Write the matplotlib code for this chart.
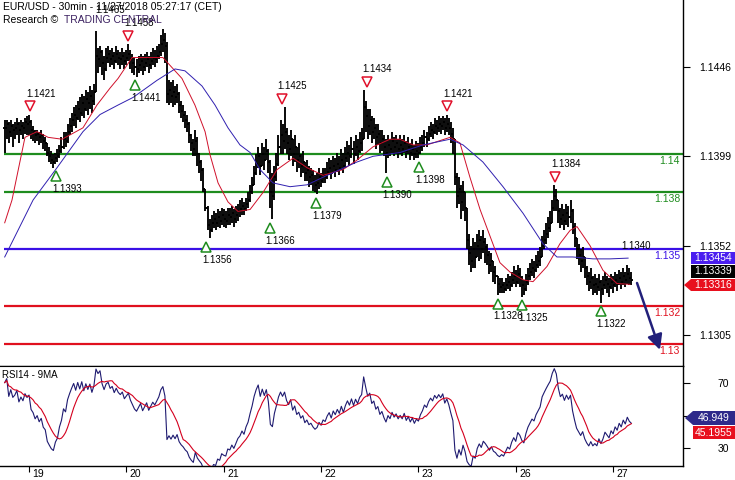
import numpy as np
import pandas as pd
import matplotlib
matplotlib.use("Agg")
import matplotlib.pyplot as plt
from matplotlib.collections import LineCollection
from matplotlib.patches import Polygon
from matplotlib.transforms import offset_copy

plt.rcParams['font.family'] = ['Liberation Sans', 'DejaVu Sans']

# ---------------- data (prices in pips above 1.1300, 30-min bars) ----------------
BASE = 1.1300
close_pips = [
    114, 116, 112, 115, 113, 114, 116, 113, 115, 114, 117, 116,
    117, 113, 112, 110, 111, 109, 110, 107, 106,
    101, 99, 97, 96, 98, 99, 102,
    104, 108, 107, 112, 115, 118,
    121, 119, 124, 122, 127, 124, 129, 127, 131, 128, 133,
    152, 150, 154,
    148, 145, 151, 153, 150, 152, 149, 153, 151, 150, 152, 149,
    151, 153, 150, 148, 146, 145, 147, 149, 146, 148, 150, 147, 149, 151, 150, 152,
    154, 158, 160, 157,
    132, 134, 131, 133, 130, 132,
    126, 123, 121, 118, 116,
    110, 106, 103, 107, 100, 96, 92,
    82, 72, 63, 60, 64,
    66, 64, 67, 65, 68, 66, 65, 68, 67, 69, 66, 68, 70, 71, 73,
    71, 74, 76, 80, 84, 90, 95,
    99, 94, 100, 97, 102, 96,
    80, 78, 88,
    95, 104, 110, 107, 112, 106,
    103, 108, 100, 104, 97, 99, 94, 96,
    90, 92, 88, 89, 86, 84, 85, 88,
    86, 89, 88, 91, 93, 90, 94, 92,
    95, 93, 97, 94, 98, 101, 99, 103, 100, 104, 102, 106, 108,
    125, 120, 115,
    118, 112, 114, 109, 111, 106,
    108, 104, 101, 105, 103, 107, 104, 106, 103, 105,
    103, 106, 102, 104, 101, 103, 100, 102, 101, 104,
    106, 109, 108, 111, 113, 112, 115, 114, 116, 115, 117, 114, 116,
    114, 111, 108,
    88, 78, 82,
    75, 80, 72,
    55, 48, 44, 50, 46,
    52, 55, 50, 54, 51,
    47, 42, 44, 38, 36,
    32, 30, 31, 29, 31, 33, 31,
    34, 36, 33, 37, 35,
    31, 29, 33,
    36, 38, 40, 39, 42, 44, 46,
    52, 55, 58, 61, 64,
    72, 78, 76,
    70, 66, 68, 65, 69, 67, 70,
    62, 56,
    50, 47, 44, 46, 40,
    36, 33, 35, 31, 32,
    30, 33, 29, 31, 34, 32, 30,
    33, 31, 34, 32, 35, 33, 36, 34, 37, 35, 34,
]
high_pips = [
    118, 118, 117, 118, 116, 117, 119, 117, 118, 117, 119, 120,
    121, 118, 115, 113, 113, 112, 113, 111, 109,
    106, 104, 102, 100, 101, 103, 105,
    109, 112, 112, 116, 119, 122,
    125, 126, 128, 130, 132, 131, 134, 133, 136, 134, 137,
    165, 156, 157,
    155, 152, 156, 157, 155, 156, 154, 157, 155, 154, 156, 154,
    155, 158, 155, 153, 151, 150, 152, 153, 152, 153, 154, 152, 154, 156, 155, 157,
    158, 163, 166, 164,
    159, 139, 138, 139, 136, 137,
    133, 128, 126, 123, 121,
    117, 111, 108, 113, 109, 101, 97,
    93, 82, 73, 66, 68,
    70, 69, 71, 70, 72, 71, 70, 72, 72, 73, 71, 73, 74, 76, 77,
    75, 77, 80, 84, 88, 94, 100,
    104, 101, 106, 104, 108, 103,
    97, 90, 94,
    101, 110, 118, 116, 125, 114,
    110, 113, 108, 110, 104, 106, 100, 102,
    96, 97, 94, 93, 92, 89, 90, 93,
    90, 93, 93, 96, 98, 97, 99, 98,
    101, 99, 103, 101, 104, 107, 105, 109, 107, 110, 108, 112, 114,
    134, 128, 124,
    124, 120, 119, 116, 116, 113,
    113, 110, 108, 110, 108, 112, 109, 110, 108, 110,
    108, 110, 107, 109, 106, 108, 105, 107, 106, 109,
    110, 113, 112, 115, 117, 116, 119, 118, 120, 119, 120, 119, 121,
    119, 117, 114,
    108, 90, 88,
    84, 86, 80,
    72, 58, 52, 56, 54,
    58, 60, 57, 60, 56,
    53, 49, 48, 44, 41,
    36, 35, 35, 33, 35, 37, 36,
    38, 41, 39, 42, 40,
    36, 34, 37,
    40, 43, 45, 44, 47, 49, 51,
    57, 60, 64, 67, 70,
    76, 84, 82,
    76, 72, 74, 71, 74, 73, 76,
    71, 64,
    56, 53, 50, 51, 46,
    41, 38, 40, 36, 37,
    35, 37, 34, 36, 38, 36, 35,
    37, 36, 38, 37, 39, 38, 40, 38, 42, 40, 38,
]
low_pips = [
    101, 108, 106, 109, 104, 108, 110, 106, 110, 108, 111, 110,
    110, 108, 107, 106, 107, 105, 106, 103, 102,
    99, 96, 95, 93, 95, 96, 98,
    101, 103, 104, 106, 110, 112,
    115, 114, 118, 117, 120, 119, 123, 121, 124, 122, 126,
    133, 143, 146,
    142, 139, 144, 148, 146, 147, 145, 148, 147, 145, 147, 145,
    147, 149, 145, 143, 142, 141, 143, 144, 142, 144, 146, 143, 145, 147, 146, 148,
    150, 152, 154, 148,
    127, 126, 127, 125, 126, 127,
    122, 119, 117, 114, 112,
    106, 102, 99, 99, 94, 90, 86,
    80, 70, 60, 56, 59,
    61, 60, 62, 61, 63, 62, 61, 63, 63, 64, 62, 64, 65, 67, 68,
    68, 70, 72, 75, 79, 84, 89,
    93, 89, 95, 92, 97, 90,
    72, 66, 76,
    86, 94, 100, 100, 103, 100,
    97, 99, 94, 96, 91, 93, 88, 90,
    86, 86, 83, 84, 81, 80, 79, 82,
    83, 85, 85, 87, 89, 87, 90, 88,
    91, 89, 92, 90, 93, 96, 94, 98, 95, 99, 97, 101, 102,
    108, 112, 108,
    110, 106, 108, 103, 105, 101,
    102, 99, 90, 98, 99, 101, 99, 100, 98, 100,
    99, 101, 98, 100, 97, 99, 97, 98, 98, 100,
    102, 104, 104, 107, 109, 108, 111, 110, 112, 111, 113, 110, 112,
    110, 106, 100,
    84, 72, 74,
    66, 70, 65,
    50, 42, 38, 40, 40,
    46, 44, 45, 48, 43,
    42, 37, 38, 33, 32,
    26, 27, 27, 27, 28, 29, 28,
    30, 32, 30, 32, 30,
    25, 26, 28,
    31, 34, 36, 35, 38, 40, 41,
    46, 50, 53, 56, 59,
    64, 70, 70,
    64, 61, 63, 60, 63, 62, 64,
    58, 51,
    45, 42, 38, 40, 35,
    31, 28, 29, 26, 27,
    26, 28, 22, 26, 29, 27, 25,
    29, 27, 30, 28, 31, 29, 31, 30, 32, 31, 31,
]

# moving averages (bar index, price)
ma_red_bars = [0, 3.6, 10, 15.9, 21.4, 28.3, 38.6, 45.5, 52, 55.9, 62.8, 70.7, 78, 87.4, 93.8,
               98.8, 101.2, 105.2, 110.1, 115, 121, 127.4, 134.3, 142.2, 149.1, 157, 166.8,
               173.7, 181.6, 190, 194.9, 201.3, 208.2, 219.6, 224.5, 229.4, 234.4, 239.3,
               244.2, 249.2, 255.6, 260.5, 267.4, 273.8, 278.8, 282.2, 288.6, 295, 301.9, 308.3]
ma_red_vals = [1.1364, 1.1376, 1.1409, 1.1412, 1.1409, 1.1408, 1.1414, 1.1426, 1.1435, 1.1440,
               1.1451, 1.1451, 1.1451, 1.1440, 1.1426, 1.1412, 1.1400, 1.1385, 1.1375, 1.1370,
               1.1371, 1.1380, 1.1392, 1.1398, 1.1393, 1.1389, 1.1392, 1.1397, 1.1404, 1.1408,
               1.1408, 1.1405, 1.1405, 1.1409, 1.1406, 1.1388, 1.1371, 1.1357, 1.1343, 1.1338,
               1.1334, 1.1333, 1.1341, 1.1353, 1.1360, 1.1362, 1.1352, 1.1339, 1.1332, 1.13316]
ma_blue_bars = [0, 14, 25.8, 38.6, 47, 55.9, 63.3, 75.1, 84, 88.9, 97.3, 103.7, 110.1, 116, 121,
                125.9, 132.3, 140.7, 149.1, 157, 165.3, 173.7, 181.6, 194.9, 206.3, 219.6, 226,
                235.8, 245.7, 255.6, 265.4, 272.3, 280.2, 290.1, 298.5, 307.4]
ma_blue_vals = [1.1346, 1.1376, 1.1393, 1.1412, 1.1421, 1.1426, 1.1430, 1.1439, 1.1445, 1.1444,
                1.1436, 1.1426, 1.1414, 1.1405, 1.1401, 1.1392, 1.1385, 1.1383, 1.1384, 1.1388,
                1.1392, 1.1396, 1.1399, 1.1401, 1.1405, 1.1408, 1.1405, 1.1396, 1.1383, 1.1369,
                1.1353, 1.1346, 1.1346, 1.1345, 1.1345, 1.13454]

# horizontal levels
levels = [1.140, 1.138, 1.135, 1.132, 1.130]
level_labels = ["1.14", "1.138", "1.135", "1.132", "1.13"]
level_colors = ["#1E8C1E", "#1E8C1E", "#3A10E6", "#E0101E", "#E0101E"]

# swing markers
top_bars = [12.5, 60.8, 136.6, 178.6, 218.1, 271.4]
top_vals = [1.1421, 1.1458, 1.1425, 1.1434, 1.1421, 1.1384]
bot_bars = [25.3, 64.3, 99.3, 130.8, 153.5, 188.5, 204.3, 243.2, 255.1, 294.0]
bot_vals = [1.1393, 1.1441, 1.1356, 1.1366, 1.1379, 1.1390, 1.1398, 1.1326, 1.1325, 1.1322]
spike_bar, spike_val = 45.5, 1.1465

day_labels = ["19", "20", "21", "22", "23", "26", "27"]
day_bars = [12, 60, 108, 156, 204, 252, 300]

right_ticks = [1.1446, 1.1399, 1.1352, 1.1305]
arrow_from = (311.8, 1.13323)
arrow_to = (323.1, 1.12971)
last_blue, last_close, last_red = "1.13454", "1.13339", "1.13316"
rsi_last, rsi_ma_last = "46.949", "45.1955"

# ---------------- figure ----------------
W, H = 735, 480
fig = plt.figure(figsize=(W / 100, H / 100), dpi=100)
AX_R = 683
ax = fig.add_axes([0, (H - 366) / H, AX_R / W, 366 / H])
ax2 = fig.add_axes([0, (H - 466) / H, AX_R / W, 100 / H])

X0 = (0 - 4.7) / 2.028
X1 = (AX_R - 4.7) / 2.028
for a in (ax, ax2):
    a.set_xlim(X0, X1)
    a.set_facecolor("white")
    a.spines['left'].set_visible(False)
    a.spines['right'].set_linewidth(1.0)
    a.spines['bottom'].set_linewidth(1.0)
ax.spines['top'].set_visible(False)
ax.set_ylim(1.12886, 1.14813)
ax2.set_ylim(18.9, 80.5)

c = BASE + np.array(close_pips) / 10000.0
h = BASE + np.array(high_pips) / 10000.0
l = BASE + np.array(low_pips) / 10000.0
n = len(c)
o = np.concatenate([[c[0]], c[:-1]])
idx = np.arange(n)

segs = []
for i in range(n):
    lo = min(l[i], o[i], c[i]); hi = max(h[i], o[i], c[i])
    segs.append([(i, lo), (i, hi)])
    segs.append([(i - 0.7, o[i]), (i, o[i])])
    segs.append([(i, c[i]), (i + 0.7, c[i])])
ax.add_collection(LineCollection(segs, colors="black", linewidths=1.35, zorder=3))

# levels
for lv, lab, col in zip(levels, level_labels, level_colors):
    ax.plot([-0.3, X1], [lv, lv], color=col, lw=1.6, zorder=2, solid_capstyle='butt')
    ax.annotate(lab, xy=(1 - 3 / AX_R, lv), xycoords=('axes fraction', 'data'),
                xytext=(0, -4.6), textcoords='offset points', ha='right', va='center',
                fontsize=7.5, color=col)

# moving averages
ax.plot(ma_red_bars, ma_red_vals, color="#D0102A", lw=0.7, zorder=4)
ax.plot(ma_blue_bars, ma_blue_vals, color="#3020B0", lw=0.7, zorder=4)

# markers
tr_up = offset_copy(ax.transData, fig=fig, x=0, y=5.8, units='points')
tr_dn = offset_copy(ax.transData, fig=fig, x=0, y=-6.2, units='points')
ax.plot(top_bars, top_vals, 'v', ms=7.5, mfc='white', mec="#E0102A", mew=1.1,
        transform=tr_up, zorder=5, linestyle='none')
ax.plot(bot_bars, bot_vals, '^', ms=7.5, mfc='white', mec="#1E8C1E", mew=1.1,
        transform=tr_dn, zorder=5, linestyle='none')
for b, v in zip(top_bars, top_vals):
    ax.annotate(f"{v:.4f}", xy=(b, v), xytext=(-3, 15), textcoords='offset points',
                ha='left', va='center', fontsize=7, color='black', zorder=6)
for b, v in zip(bot_bars, bot_vals):
    ax.annotate(f"{v:.4f}", xy=(b, v), xytext=(-3, -15.5), textcoords='offset points',
                ha='left', va='center', fontsize=7, color='black', zorder=6)
ax.annotate(f"{spike_val:.4f}", xy=(spike_bar, spike_val), xytext=(-1, 15),
            textcoords='offset points', ha='left', va='center', fontsize=7, zorder=6)
ax.annotate("1.1340", xy=(304, 1.13518), ha='left', va='center', fontsize=7, zorder=6)

# arrow
ax.annotate('', xy=arrow_to, xytext=arrow_from,
            arrowprops=dict(arrowstyle='-|>,head_length=0.9,head_width=0.45',
                            color="#22207A", lw=1.8, shrinkA=0, shrinkB=0), zorder=6)

# right axis
ax.yaxis.tick_right()
ax.set_yticks(right_ticks)
ax.set_yticklabels([f"{t:.4f}" for t in right_ticks])
ax.tick_params(axis='y', direction='out', length=5, pad=7, labelsize=7.5, width=0.8)
ax.set_xticks([])

# header
fig.text(3 / W, 1 - 7 / H, "EUR/USD - 30min - 11/27/2018 05:27:17 (CET)", fontsize=7.5,
         va='center', ha='left')
fig.text(3 / W, 1 - 20 / H, "Research © ", fontsize=7.5, va='center', ha='left')
fig.text(64 / W, 1 - 20 / H, "TRADING CENTRAL", fontsize=7.5, va='center', ha='left',
         color="#3B2060")

# value boxes (figure pixel coords)
def px(x, y):
    return (x / W, 1 - y / H)

def box(y0, y1, color, text, pointer=False, tcolor='white'):
    ym = (y0 + y1) / 2
    pts = [(691, y0), (735, y0), (735, y1), (691, y1)]
    if pointer:
        pts = [(684, ym), (691, y0), (735, y0), (735, y1), (691, y1)]
    poly = Polygon([px(*p) for p in pts], closed=True, transform=fig.transFigure,
                   facecolor=color, edgecolor='none', zorder=10)
    fig.patches.append(poly)
    fig.text(*px(713, ym), text, color=tcolor, fontsize=7.5, ha='center', va='center',
             zorder=11)

box(252, 264, "#4A1EF0", last_blue)
box(265, 278, "black", last_close)
box(279, 291, "#E8101E", last_red, pointer=True)

# ---------------- RSI ----------------
diffs = np.diff(c * 10000, prepend=c[0] * 10000)
ag, al = 1.3, 0.55
rsi = []
for d in diffs:
    ag = (ag * 13 + max(d, 0)) / 14
    al = (al * 13 + max(-d, 0)) / 14
    rsi.append(100 * ag / (ag + al))
rsi = np.array(rsi)
rsi_ma = pd.Series(rsi).rolling(9, min_periods=1).mean().values

ax2.plot(idx, rsi, color="#1E1A70", lw=0.8, zorder=3)
ax2.plot(idx, rsi_ma, color="#D4001E", lw=0.8, zorder=4)
ax2.text(2 / AX_R, 1 - 9 / 100, "RSI14 - 9MA", transform=ax2.transAxes, fontsize=7,
         ha='left', va='center')
ax2.yaxis.tick_right()
ax2.set_yticks([70, 50, 30])
ax2.set_yticklabels(["70", "50", "30"])
ax2.tick_params(axis='y', direction='out', length=5, pad=20, labelsize=7.5, width=0.8)
ax2.set_xticks(day_bars)
ax2.set_xticklabels([])
ax2.tick_params(axis='x', direction='out', length=4, width=0.8)
for b, lab in zip(day_bars, day_labels):
    ax2.annotate(lab, xy=(b, 0), xycoords=('data', 'axes fraction'), xytext=(2.5, -6),
                 textcoords='offset points', ha='left', va='center', fontsize=7.5)

def box2(y0, y1, color, text, pointer=False):
    ym = (y0 + y1) / 2
    pts = [(693, y0), (735, y0), (735, y1), (693, y1)]
    if pointer:
        pts = [(685, ym), (693, y0), (735, y0), (735, y1), (693, y1)]
    poly = Polygon([px(*p) for p in pts], closed=True, transform=fig.transFigure,
                   facecolor=color, edgecolor='none', zorder=10)
    fig.patches.append(poly)
    fig.text(*px(714, ym), text, color='white', fontsize=7.5, ha='center', va='center',
             zorder=11)

box2(411, 425, "#2E2A8A", rsi_last, pointer=True)
box2(426, 439, "#E8101E", rsi_ma_last)

fig.savefig("out.png", dpi=100)
